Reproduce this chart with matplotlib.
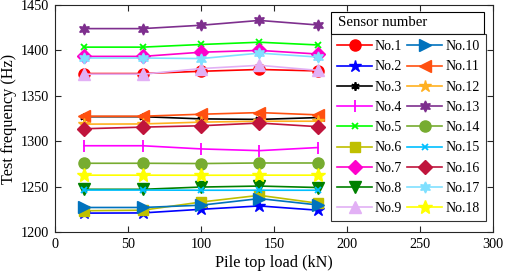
import matplotlib
matplotlib.use("Agg")
import matplotlib.pyplot as plt
from matplotlib.patches import Rectangle

plt.rcParams['font.family'] = ['Liberation Serif', 'DejaVu Serif']

loads = [20, 60, 100, 140, 180]
labels = [f"No.{i}" for i in range(1, 19)]
freqs = [
    [1374.5, 1374.5, 1377.0, 1379.0, 1377.4],  # No.1
    [1220.8, 1221.0, 1225.0, 1228.7, 1224.0],  # No.2
    [1327.0, 1327.0, 1324.6, 1324.0, 1326.0],  # No.3
    [1295.0, 1295.0, 1291.5, 1289.6, 1293.0],  # No.4
    [1403.6, 1403.6, 1406.5, 1409.0, 1406.0],  # No.5
    [1223.4, 1224.0, 1233.0, 1240.4, 1231.7],  # No.6
    [1393.4, 1393.4, 1398.0, 1400.0, 1396.0],  # No.7
    [1247.0, 1247.0, 1249.5, 1250.6, 1249.0],  # No.8
    [1373.8, 1373.8, 1380.0, 1383.6, 1378.0],  # No.9
    [1227.0, 1227.0, 1229.5, 1236.8, 1229.8],  # No.10
    [1327.5, 1327.5, 1329.7, 1331.5, 1329.0],  # No.11
    [1318.8, 1319.0, 1321.0, 1322.0, 1322.0],  # No.12
    [1424.0, 1424.0, 1427.7, 1433.0, 1428.0],  # No.13
    [1275.7, 1275.7, 1275.4, 1276.0, 1276.0],  # No.14
    [1246.2, 1246.2, 1246.0, 1246.0, 1246.0],  # No.15
    [1313.7, 1315.5, 1317.0, 1320.0, 1316.0],  # No.16
    [1391.6, 1391.6, 1391.0, 1397.0, 1392.7],  # No.17
    [1262.6, 1262.6, 1262.5, 1262.6, 1262.6],  # No.18
]
x_ticks = [0, 50, 100, 150, 200, 250, 300]
y_ticks = [1200, 1250, 1300, 1350, 1400, 1450]

colors = ['#FF0000', '#0000FF', '#000000', '#FF00FF', '#00FF00', '#BFBF00',
          '#FF00CC', '#008000', '#E2B0F5', '#0072BD', '#FF5010', '#FFB020',
          '#7E2F8E', '#77AC30', '#00BFFF', '#C0143C', '#80E0FF', '#FFFF00']
hexa = (6, 1, 0)
markers = ['o', '*', (6, 2, 0), '|', 'x', 's', 'D', 'v', '^', '>', '<', '*',
           hexa, 'o', 'x', 'D', hexa, '*']
msizes = [8, 9, 6, 9, 5, 7, 7, 8, 9, 8, 8, 9, 8, 8, 5, 7, 8, 10]

fig = plt.figure(figsize=(5.05, 2.8), dpi=100)
ax = fig.add_axes([55/505, 1-232/280, (493-55)/505, (232-5)/280])

handles = []
for i in range(18):
    mk = markers[i]
    kw = {}
    if mk in ('|', 'x') or mk == (6, 2, 0):
        kw['markeredgewidth'] = 1.3
    h, = ax.plot(loads, freqs[i], color=colors[i], marker=mk, ms=msizes[i],
                 lw=1.2, label=labels[i], **kw)
    handles.append(h)

ax.set_xlim(0, 300)
ax.set_ylim(1200, 1450)
ax.set_xticks(x_ticks)
ax.set_yticks(y_ticks)
ax.tick_params(direction='in', top=True, right=True, labelsize=10.3, length=4,
               width=0.8, colors='#262626', labelcolor='black', pad=4)
for s in ax.spines.values():
    s.set_linewidth(0.8)
    s.set_color('#262626')
ax.set_xlabel('Pile top load (kN)', fontsize=11.7, labelpad=3)
ax.set_ylabel('Test frequency (Hz)', fontsize=11.7, labelpad=3)

# legend
lx0, lx1 = 331/505, 484/505
ly1 = 1-34/280
leg = fig.legend(handles=handles, ncol=2, loc='upper left',
                 bbox_to_anchor=(lx0, ly1),
                 fontsize=10, frameon=True, fancybox=False, edgecolor='black',
                 handlelength=2.5, handletextpad=0.22, columnspacing=0.36,
                 labelspacing=0.52, borderpad=0.45, borderaxespad=0.0)
leg.get_frame().set_linewidth(0.8)

# legend title box
ty0 = 1-34/280
ty1 = 1-12/280
fig.patches.append(Rectangle((lx0, ty0), lx1-lx0, ty1-ty0, transform=fig.transFigure,
                             facecolor='white', edgecolor='black', lw=0.8, zorder=5))
fig.text(lx0 + 7/505, (ty0+ty1)/2, 'Sensor number', fontsize=10.6, va='center',
         ha='left', zorder=6)

fig.savefig('out.png', dpi=100)
